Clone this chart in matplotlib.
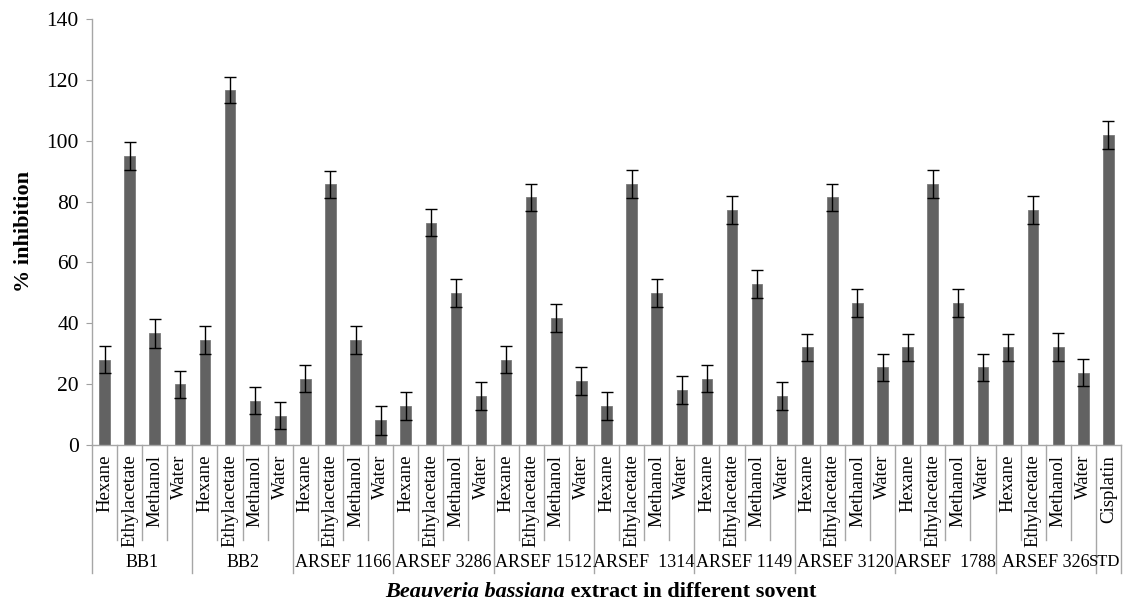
import numpy as np
import matplotlib
matplotlib.use('Agg')
from matplotlib import pyplot as plt
from matplotlib import transforms

plt.rcParams['font.family'] = ['Liberation Serif', 'DejaVu Serif']

groups = ['BB1', 'BB2', 'ARSEF 1166', 'ARSEF 3286', 'ARSEF 1512', 'ARSEF  1314',
          'ARSEF 1149', 'ARSEF 3120', 'ARSEF  1788', 'ARSEF 326', 'STD']
group_sizes = [4, 4, 4, 4, 4, 4, 4, 4, 4, 4, 1]
solvents = ['Hexane', 'Ethylacetate', 'Methanol', 'Water']
std_label = ['Cisplatin']

# % inhibition
values = [28, 95, 36.7, 20,
          34.4, 116.7, 14.6, 9.6,
          21.8, 85.7, 34.4, 8.1,
          12.8, 73.1, 50, 16.1,
          28, 81.4, 41.6, 21,
          12.8, 85.7, 50, 18,
          21.8, 77.2, 52.9, 16.1,
          32.1, 81.4, 46.8, 25.5,
          32.1, 85.7, 46.8, 25.5,
          32.1, 77.2, 32.1, 23.8,
          101.9]
errors = [4.4, 4.7, 4.7, 4.4,
          4.6, 4.4, 4.4, 4.4,
          4.4, 4.5, 4.6, 4.7,
          4.7, 4.5, 4.5, 4.5,
          4.4, 4.5, 4.6, 4.7,
          4.7, 4.6, 4.5, 4.6,
          4.5, 4.5, 4.5, 4.6,
          4.5, 4.5, 4.6, 4.5,
          4.5, 4.6, 4.6, 4.5,
          4.5, 4.5, 4.6, 4.4,
          4.6]

tick_labels = solvents * 10 + std_label
x = np.arange(len(values))

fig = plt.figure(figsize=(11.23, 6.04), dpi=100)
ax = fig.add_axes([92/1123, 159/604, (1121-92)/1123, 426/604])

ax.bar(x, values, width=0.42, color='#626262', edgecolor='#7a7a7a', linewidth=0.6,
       yerr=errors, capsize=4.2,
       error_kw=dict(ecolor='black', elinewidth=1.0, capthick=1.0))

ax.set_xlim(-0.5, len(values) - 0.5)
ax.set_ylim(0, 140)
ax.set_yticks(np.arange(0, 141, 20))
ax.tick_params(axis='y', labelsize=15.5, length=4.5, width=0.8, color='#a0a0a0', pad=5)

ax.set_xticks(x)
ax.set_xticklabels(tick_labels, rotation=90, fontsize=13.5)
ax.tick_params(axis='x', length=0, pad=7)

for s in ['top', 'right']:
    ax.spines[s].set_visible(False)
for s in ['left', 'bottom']:
    ax.spines[s].set_color('#a6a6a6')
    ax.spines[s].set_linewidth(1.0)

# linhas da tabela de categorias
trans = transforms.blended_transform_factory(ax.transData, ax.transAxes)
inner = -0.223
outer = -0.30
bounds = np.cumsum([0] + group_sizes) - 0.5
for b in np.arange(-0.5, len(values), 1.0):
    y_end = outer if b in bounds else inner
    ax.plot([b, b], [0, y_end], color='#a6a6a6', lw=1.0, transform=trans, clip_on=False)

for i, g in enumerate(groups):
    c = (bounds[i] + bounds[i + 1]) / 2
    if g == 'STD':
        ax.text(bounds[i + 1] - 0.02, -0.275, g, transform=trans, ha='right', va='center', fontsize=12)
    else:
        ax.text(c, -0.275, g, transform=trans, ha='center', va='center', fontsize=13)

ax.set_ylabel('% inhibition', fontsize=16, fontweight='bold', labelpad=9)

xs = 565 / 1123
ys = 12 / 604
fig.text(xs, ys, 'Beauveria bassiana', fontsize=16, fontweight='bold', style='italic',
         ha='right', va='center')
fig.text(xs, ys, ' extract in different sovent', fontsize=16, fontweight='bold',
         ha='left', va='center')

plt.savefig('out.png', dpi=100)
